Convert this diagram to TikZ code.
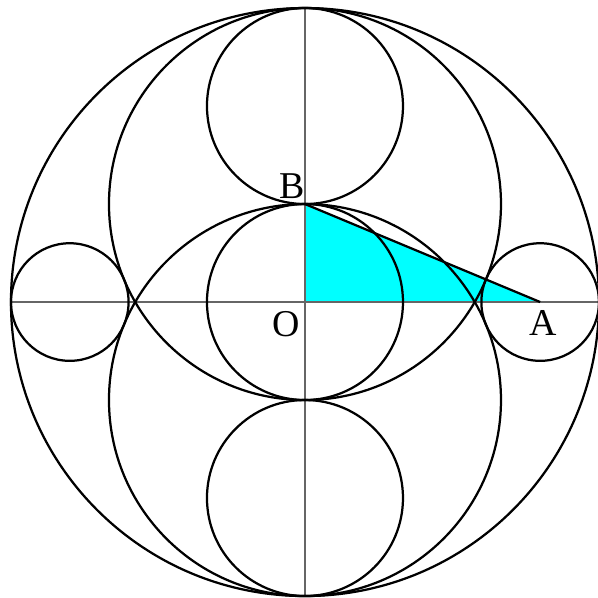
\documentclass[tikz,border=0pt]{standalone}
\usepackage{fontspec}
\setmainfont{Liberation Serif}
\definecolor{aqua}{RGB}{0,255,255}
\begin{document}
\begin{tikzpicture}[x=1cm,y=1cm,
  circ/.style={draw=black,line width=0.65pt},
  axis/.style={draw=black!60,line width=0.55pt},
  lbl/.style={font=\fontsize{11}{13}\selectfont,inner sep=0pt}]
\useasboundingbox (-3.112,-3.02) rectangle (2.99,3.082);
\coordinate (O) at (0,0);
\coordinate (A) at (2.4,0);
\coordinate (B) at (0,1);
\coordinate (L) at (-3.0,0);
\coordinate (R) at (3.0,0);
\coordinate (T) at (0,3.0);
\coordinate (D) at (0,-3.0);
\fill[aqua] (O) -- (A) -- (B) -- cycle;
\draw[axis] (L) -- (R);
\draw[axis] (T) -- (D);
\draw[circ] (O) circle (3);
\draw[circ] (0,1) circle (2);
\draw[circ] (0,-1) circle (2);
\draw[circ] (O) circle (1);
\draw[circ] (0,2) circle (1);
\draw[circ] (0,-2) circle (1);
\draw[circ] (A) circle (0.6);
\draw[circ] (-2.4,0) circle (0.6);
\draw[circ] (A) -- (B);
\node[lbl] (lb) at (-0.13,1.18) {B};
\node[lbl] (lo) at (-0.19,-0.23) {O};
\node[lbl] (la) at (2.43,-0.21) {A};
\end{tikzpicture}
\end{document}
